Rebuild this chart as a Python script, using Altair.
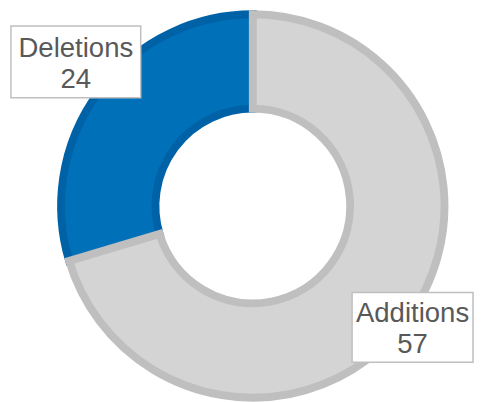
import altair as alt
import pandas as pd

# Data
categories = ["Deletions", "Additions"]
values = [24, 57]
stack_order = [2, 1]  # Additions starts at 12 o'clock, clockwise

# Styles
fill_colors = ["#0070B9", "#D4D4D4"]
stroke_colors = ["#0062A6", "#BFBFBF"]

# Label layout (pixel positions in chart coordinates)
label_cx = [69, 411.5]
label_baseline = [46, 316]
box_x1 = [3, 350]
box_x2 = [135, 473]
box_y1 = [15, 286]
box_y2 = [88, 357]

df = pd.DataFrame({
    "category": categories,
    "value": values,
    "ord": stack_order,
})

labels = pd.DataFrame({
    "category": categories,
    "label": [f"{c}\n{v}" for c, v in zip(categories, values)],
    "cx": label_cx,
    "by": label_baseline,
    "x1": box_x1,
    "x2": box_x2,
    "y1": box_y1,
    "y2": box_y2,
})

center_x, center_y = 249, 198

donut = alt.Chart(df).mark_arc(
    radius=195, radius2=99, strokeWidth=8, strokeJoin="miter"
).encode(
    theta=alt.Theta("value:Q", stack=True),
    order=alt.Order("ord:Q"),
    color=alt.Color("category:N", scale=alt.Scale(domain=categories, range=fill_colors), legend=None),
    stroke=alt.Stroke("category:N", scale=alt.Scale(domain=categories, range=stroke_colors), legend=None),
    x=alt.value(center_x),
    y=alt.value(center_y),
)

boxes = alt.Chart(labels).mark_rect(
    fill="white", stroke="#BFBFBF", strokeWidth=1.5
).encode(
    x=alt.X("x1:Q", scale=None),
    x2="x2:Q",
    y=alt.Y("y1:Q", scale=None),
    y2="y2:Q",
)

texts = alt.Chart(labels).mark_text(
    font="Liberation Sans", fontSize=28, color="#595959",
    align="center", baseline="alphabetic", lineBreak="\n", lineHeight=32,
).encode(
    x=alt.X("cx:Q", scale=None),
    y=alt.Y("by:Q", scale=None),
    text="label:N",
)

chart = alt.layer(donut, boxes, texts).properties(
    width=474, height=394, padding=0,
    autosize=alt.AutoSizeParams(type="none"),
).configure_view(stroke=None)

chart.save("out.html", embed_options={"renderer": "svg", "actions": False})
